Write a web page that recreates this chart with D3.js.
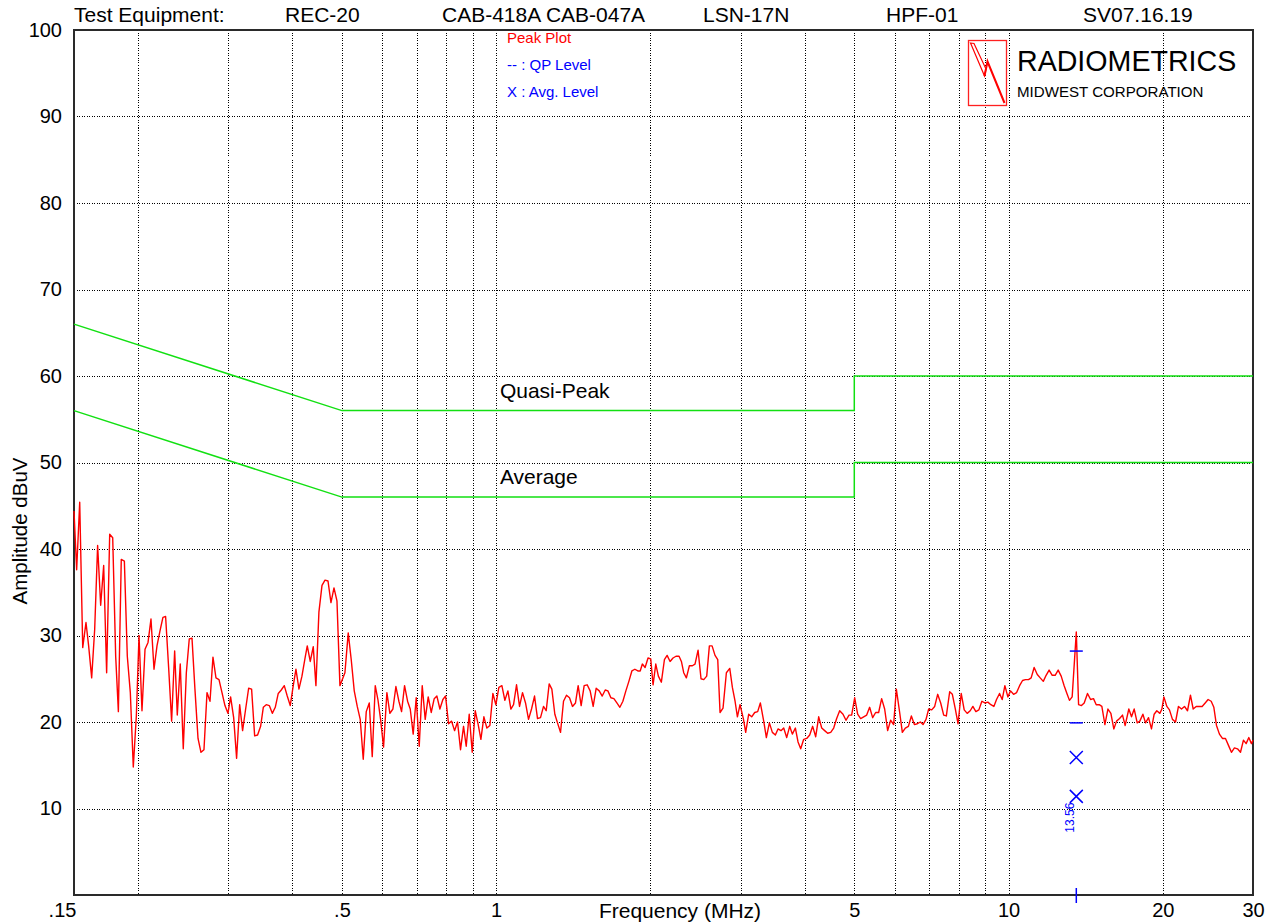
<!DOCTYPE html>
<html>
<head>
<meta charset="utf-8">
<script src="https://cdn.jsdelivr.net/npm/d3@7"></script>
<style>
  html, body { margin: 0; padding: 0; background: #fff; }
  svg { display: block; font-family: "Liberation Sans", Arial, sans-serif; }
</style>
</head>
<body>
<svg id="chart" width="1282" height="922"></svg>
<script>
// Conducted emissions, peak sweep 0.15 - 30 MHz (frequency MHz, level dBuV)
const peakTrace = [
  [0.150,44.4],[0.1518,37.6],[0.1539,45.4],[0.1560,28.6],[0.1583,31.5],[0.1602,28.8],[0.1624,25.1],[0.1646,30.7],[0.1668,40.4],[0.1691,33.5],
  [0.1714,38.1],[0.1737,25.7],[0.1761,41.7],[0.1785,41.3],[0.1809,27.6],[0.1831,21.2],[0.1855,38.8],[0.1881,38.6],[0.1906,27.6],[0.1932,23.4],
  [0.1958,14.8],[0.1985,20.7],[0.2009,30.0],[0.2036,21.3],[0.2064,28.4],[0.2092,29.2],[0.2120,31.9],[0.2149,26.1],[0.2178,28.8],[0.2207,30.5],
  [0.2237,32.1],[0.2264,32.2],[0.2295,26.3],[0.2326,20.1],[0.2358,28.2],[0.2386,20.8],[0.2418,26.7],[0.2451,16.9],[0.2485,25.7],[0.2518,29.6],
  [0.2549,29.7],[0.2583,23.8],[0.2619,18.1],[0.2654,16.5],[0.2690,16.8],[0.2727,23.4],[0.2764,22.4],[0.2801,27.5],[0.2839,25.1],[0.2878,24.9],
  [0.2917,23.4],[0.2956,21.9],[0.2996,21.0],[0.3032,22.9],[0.3074,20.5],[0.3115,15.8],[0.3158,22.0],[0.3200,19.0],[0.3244,21.5],[0.3288,23.9],
  [0.3332,23.8],[0.3378,18.4],[0.3423,18.5],[0.3470,19.5],[0.3512,21.7],[0.3559,22.0],[0.3608,21.9],[0.3657,21.0],[0.3706,21.7],[0.3756,23.3],
  [0.3807,23.7],[0.3859,24.2],[0.3911,23.0],[0.3964,21.9],[0.4018,24.2],[0.4067,26.1],[0.4122,23.8],[0.4178,25.3],[0.4234,27.3],[0.4279,28.8],
  [0.4337,27.0],[0.4396,28.7],[0.4449,24.2],[0.4509,32.7],[0.4572,35.8],[0.4634,36.4],[0.4697,36.3],[0.4760,33.8],[0.4825,35.5],[0.4890,34.0],
  [0.4956,24.2],
  [0.5068,25.7],[0.5144,30.3],[0.5214,27.2],[0.5285,23.6],[0.5357,21.8],[0.5429,20.3],[0.5503,15.7],[0.5578,21.2],[0.5654,22.2],[0.5730,16.0],
  [0.5808,24.2],[0.5878,22.6],[0.5949,20.3],[0.6029,17.1],[0.6120,23.4],[0.6203,21.0],[0.6288,21.5],[0.6373,24.1],[0.6459,22.4],[0.6537,21.2],
  [0.6626,24.2],[0.6716,22.4],[0.6797,21.5],[0.6888,18.6],[0.6982,22.8],[0.7077,17.2],[0.7173,24.2],[0.7270,20.3],[0.7369,22.9],[0.7469,21.1],
  [0.7570,22.7],[0.7662,23.0],[0.7766,21.5],[0.7871,22.6],[0.7966,23.0],[0.8074,19.8],[0.8184,20.1],[0.8295,19.0],[0.8407,20.0],[0.8521,16.8],
  [0.8637,19.5],[0.8741,17.2],[0.8860,20.9],[0.8980,16.5],[0.9102,21.3],[0.9225,19.7],[0.9337,18.0],[0.9464,20.6],[0.9592,19.3],[0.9722,19.6],
  [0.9854,23.3],[0.9988,22.0],[1.0123,24.0],[1.0261,24.2],[1.0400,22.5],[1.0541,23.6],[1.0684,21.5],[1.0813,22.0],[1.0959,24.3],[1.1108,21.8],
  [1.1258,23.4],[1.1411,22.2],[1.1566,20.3],[1.1723,21.5],[1.1882,23.0],[1.2043,20.4],[1.2207,20.5],[1.2372,21.8],[1.2522,21.3],[1.2691,24.4],
  [1.2844,23.8],[1.3018,20.9],[1.3175,19.9],[1.3354,18.8],[1.3535,22.4],[1.3718,23.1],[1.3904,22.8],[1.4093,21.8],[1.4284,22.2],[1.4456,24.2],
  [1.4652,21.9],[1.4851,24.2],[1.5053,24.3],[1.5257,23.6],[1.5464,21.8],[1.5674,23.9],[1.5891,23.6],[1.6107,23.0],[1.6326,23.7],[1.6523,23.6],
  [1.6746,22.8],[1.6974,22.7],[1.7204,22.2],[1.7437,21.7],[1.7674,22.4],[1.7913,23.6],[1.8156,24.7],[1.8402,25.9],[1.8652,26.1],[1.8905,25.9],
  [1.9104,25.9],
  [1.929,26.7],[1.953,26.3],[1.979,27.4],[2.003,27.3],[2.024,24.3],[2.049,26.7],[2.073,25.3],[2.101,24.6],[2.130,27.2],[2.156,27.7],
  [2.185,27.0],[2.214,27.4],[2.244,27.6],[2.275,27.6],[2.299,27.0],[2.323,25.7],[2.351,25.1],[2.383,26.5],[2.415,26.5],[2.444,26.7],
  [2.478,28.3],[2.511,25.0],[2.542,24.9],[2.576,25.3],[2.607,28.8],[2.639,28.8],[2.674,27.7],[2.707,27.2],[2.735,21.1],[2.772,21.6],
  [2.814,25.7],[2.857,26.2],[2.891,24.0],[2.926,22.4],[2.957,20.6],[2.992,22.0],[3.037,20.4],[3.069,18.8],[3.111,20.9],[3.153,20.6],
  [3.196,21.1],[3.239,21.2],[3.278,22.2],[3.328,20.1],[3.368,18.2],[3.414,19.9],[3.460,18.8],[3.507,18.5],[3.549,19.2],[3.597,19.0],
  [3.641,19.3],[3.690,18.2],[3.740,19.5],[3.785,18.6],[3.837,19.3],[3.883,17.7],[3.930,16.9],[3.983,18.0],[4.037,18.1],[4.092,18.5],
  [4.147,19.5],[4.204,18.3],[4.261,20.6],[4.319,19.3],[4.377,19.0],[4.436,18.7],[4.497,18.8],[4.558,19.3],[4.619,20.4],[4.682,21.3],
  [4.753,20.9],[4.817,20.2],[4.883,20.8],[4.941,20.8],[5.009,22.8],[5.076,20.9],[5.145,20.4],[5.215,20.6],[5.286,20.8],[5.357,21.7],
  [5.430,20.5],[5.504,21.1],[5.578,21.1],[5.654,22.7],[5.731,21.5],[5.809,19.0],[5.887,20.2],[5.967,19.7],[6.040,23.8],[6.131,21.1],
  [6.205,18.8],[6.289,19.3],[6.376,19.5],[6.462,20.7],[6.550,19.7],[6.639,19.8],[6.729,20.0],[6.810,19.7],[6.902,20.3],[6.985,21.5],
  [7.080,21.4],[7.176,21.8],[7.273,23.2],[7.372,22.2],[7.472,20.8],[7.562,20.7],[7.676,23.5],[7.769,23.2],[7.874,21.5],[7.969,19.8],
  [8.084,23.3],[8.194,21.4],[8.305,21.0],[8.418,21.3],[8.519,21.8],[8.635,21.2],[8.752,21.4],[8.871,22.4],[8.991,22.2],[9.113,22.3],
  [9.237,22.0],[9.362,21.8],[9.475,22.6],[9.604,23.3],[9.719,22.6],[9.837,24.2],[9.970,22.9],[10.09,23.6],[10.23,23.2],[10.37,23.4],
  [10.51,24.2],[10.65,24.8],[10.79,24.9],[10.94,24.9],[11.07,25.1],[11.22,26.3],[11.38,25.5],[11.53,25.1],[11.69,24.7],[11.84,25.4],
  [12.00,26.0],[12.17,25.4],[12.33,25.4],[12.50,26.0],[12.67,25.3],[12.84,24.2],[13.00,23.3],[13.15,22.5],[13.31,22.9],[13.56,30.4],
  [13.70,22.0],[13.88,21.9],[14.05,22.2],[14.26,23.3],[14.46,22.6],[14.65,22.7],[14.83,22.0],[15.03,22.0],[15.21,21.8],[15.42,19.7],
  [15.63,21.5],[15.84,21.0],[16.05,19.2],[16.25,20.1],[16.47,20.4],[16.69,20.8],[16.89,19.6],[17.17,21.5],[17.38,20.6],[17.59,21.5],
  [17.83,19.9],[18.04,20.1],[18.29,20.9],[18.51,19.9],[18.76,20.5],[19.01,19.2],[19.24,20.9],[19.47,21.3],[19.74,21.0],[19.92,21.5],
  [20.10,22.9],[20.37,21.8],[20.61,21.4],[20.89,20.3],[21.18,20.0],[21.46,21.8],[21.76,21.5],[22.05,21.8],[22.35,21.3],[22.65,23.1],
  [22.93,21.5],[23.24,21.8],[23.55,21.8],[23.87,21.8],[24.20,22.2],[24.52,22.6],[24.86,22.4],[25.16,21.7],[25.46,19.6],[25.80,18.6],
  [26.15,18.1],[26.51,18.1],[26.87,17.3],[27.23,16.5],[27.60,17.0],[27.98,16.9],[28.36,16.5],[28.74,17.9],[29.09,17.5],[29.44,18.2],
  [29.79,17.5],[30.0,17.9]
];

// Limit lines (frequency MHz, dBuV)
const qpLimit  = [[0.15,66],[0.5,56],[5,56],[5,60],[30,60]];
const avgLimit = [[0.15,56],[0.5,46],[5,46],[5,50],[30,50]];
const limitLabels = [
  { text: "Quasi-Peak", freq: 1.017, level: 56 },
  { text: "Average",    freq: 1.017, level: 46 }
];

// Final measurements at the marked frequency
const markerFreq = 13.56;
const markerLabel = "13.56";
const qpLevels  = [28.2, 19.9];
const avgLevels = [15.9, 11.4];

// Axes
const xTicks      = [0.15, 0.5, 1, 5, 10, 20, 30];
const xTickLabels = [".15", ".5", "1", "5", "10", "20", "30"];
const xGrid       = [0.2,0.3,0.4,0.5,0.6,0.7,0.8,0.9,1,2,3,4,5,6,7,8,9,10,20];
const yTicks      = [10,20,30,40,50,60,70,80,90,100];
const yGrid       = [10,20,30,40,50,60,70,80,90];

// Header line
const headerItems = [
  { text: "Test Equipment:",   x: 74 },
  { text: "REC-20",            x: 285 },
  { text: "CAB-418A CAB-047A", x: 442 },
  { text: "LSN-17N",           x: 703 },
  { text: "HPF-01",            x: 886 },
  { text: "SV07.16.19",        x: 1083 }
];
const legendItems = [
  { text: "Peak Plot",        color: "#ff0000" },
  { text: "-- : QP Level",    color: "#0000ff" },
  { text: "X : Avg. Level",   color: "#0000ff" }
];

const svg = d3.select("#chart");
const L = 74, R = 1253, T = 30, B = 895;

const x = d3.scaleLog().domain([0.15, 30]).range([L, R]);
const y = d3.scaleLinear().domain([0, 100]).range([B, T]);

// Grid
const grid = svg.append("g").attr("stroke", "#000").attr("stroke-width", 1)
  .attr("stroke-dasharray", "1,1.5").attr("shape-rendering", "crispEdges");
grid.selectAll("line.v").data(xGrid).join("line").attr("class", "v")
  .attr("x1", d => Math.round(x(d)) + 0.5).attr("x2", d => Math.round(x(d)) + 0.5)
  .attr("y1", T).attr("y2", B);
grid.selectAll("line.h").data(yGrid).join("line").attr("class", "h")
  .attr("y1", d => Math.round(y(d)) + 0.5).attr("y2", d => Math.round(y(d)) + 0.5)
  .attr("x1", L).attr("x2", R);

// Frame
svg.append("rect").attr("x", L).attr("y", T).attr("width", R - L).attr("height", B - T)
  .attr("fill", "none").attr("stroke", "#2a2a2a").attr("stroke-width", 2);

// Axes labels
const yAxis = svg.append("g").attr("transform", `translate(${L},0)`)
  .call(d3.axisLeft(y).tickValues(yTicks).tickSize(0).tickPadding(12).tickFormat(d3.format("d")));
yAxis.select(".domain").remove();
yAxis.selectAll("text").attr("font-size", 20).attr("fill", "#000")
  .attr("font-family", "'Liberation Sans', Arial, sans-serif");

const xAxis = svg.append("g").attr("transform", `translate(0,${B})`)
  .call(d3.axisBottom(x).tickValues(xTicks).tickSize(0).tickPadding(8)
    .tickFormat((d, i) => xTickLabels[i]));
xAxis.select(".domain").remove();
xAxis.selectAll("text").attr("font-size", 20).attr("fill", "#000")
  .attr("font-family", "'Liberation Sans', Arial, sans-serif")
  .attr("dx", (d, i) => i === 0 ? -12 : 0);

svg.append("text").attr("x", 680).attr("y", 918).attr("text-anchor", "middle")
  .attr("font-size", 21).text("Frequency (MHz)");
svg.append("text").attr("transform", "translate(27,531) rotate(-90)")
  .attr("text-anchor", "middle").attr("font-size", 20.5).text("Amplitude dBuV");

// Header
svg.selectAll("text.hdr").data(headerItems).join("text").attr("class", "hdr")
  .attr("x", d => d.x).attr("y", 22).attr("font-size", 21).text(d => d.text);

// Legend
svg.selectAll("text.leg").data(legendItems).join("text").attr("class", "leg")
  .attr("x", 507).attr("y", (d, i) => 43 + i * 27)
  .attr("font-size", 15).attr("fill", d => d.color).text(d => d.text);

// Logo
const logo = svg.append("g");
logo.append("rect").attr("x", 968.5).attr("y", 40.5).attr("width", 38).attr("height", 65)
  .attr("fill", "none").attr("stroke", "#ff2020").attr("stroke-width", 1.3);
logo.append("path")
  .attr("d", "M970.5,43 L974,43.5 L986,69 L984.5,76 Z")
  .attr("fill", "none").attr("stroke", "#ff0000").attr("stroke-width", 1.2);
logo.append("path")
  .attr("d", "M984.5,76 L987.5,61.5 L1004.5,103")
  .attr("fill", "none").attr("stroke", "#ff0000").attr("stroke-width", 2);
logo.append("text").attr("x", 1017).attr("y", 71).attr("font-size", 28.6).text("RADIOMETRICS");
logo.append("text").attr("x", 1017).attr("y", 97).attr("font-size", 15.1).text("MIDWEST CORPORATION");

// Limit lines
const lineGen = d3.line().x(d => x(d[0])).y(d => y(d[1]));
svg.append("path").datum(qpLimit).attr("d", lineGen)
  .attr("fill", "none").attr("stroke", "#12e012").attr("stroke-width", 1.5);
svg.append("path").datum(avgLimit).attr("d", lineGen)
  .attr("fill", "none").attr("stroke", "#12e012").attr("stroke-width", 1.5);
svg.selectAll("text.lim").data(limitLabels).join("text").attr("class", "lim")
  .attr("x", d => x(d.freq)).attr("y", d => y(d.level) - 13)
  .attr("font-size", 21).text(d => d.text);

// Peak trace
svg.append("path").datum(peakTrace).attr("d", lineGen)
  .attr("fill", "none").attr("stroke", "#ff0000").attr("stroke-width", 1.4)
  .attr("stroke-linejoin", "round");

// Measurement markers
const mx = x(markerFreq);
const mk = svg.append("g").attr("stroke", "#0000ff").attr("stroke-width", 1.5).attr("fill", "none");
mk.selectAll("line.qp").data(qpLevels).join("line").attr("class", "qp")
  .attr("x1", mx - 6.5).attr("x2", mx + 6.5).attr("y1", d => y(d)).attr("y2", d => y(d));
avgLevels.forEach(v => {
  mk.append("path").attr("d",
    `M${mx - 6.5},${y(v) - 6.5} L${mx + 6.5},${y(v) + 6.5} M${mx - 6.5},${y(v) + 6.5} L${mx + 6.5},${y(v) - 6.5}`);
});
mk.append("line").attr("x1", mx).attr("x2", mx).attr("y1", B - 7).attr("y2", B + 8);
svg.append("text").attr("transform", `translate(${mx - 2},${y(7.2)}) rotate(-90)`)
  .attr("font-size", 12).attr("fill", "#0000ff").text(markerLabel);
</script>
</body>
</html>
